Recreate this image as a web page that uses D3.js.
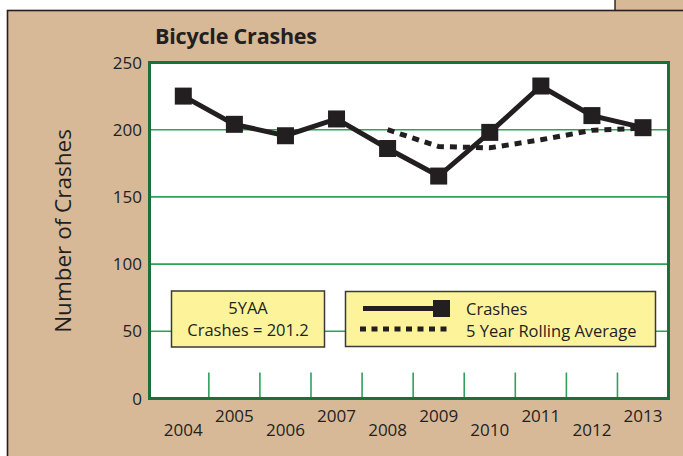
<!DOCTYPE html>
<html>
<head>
<meta charset="utf-8">
<script src="https://cdn.jsdelivr.net/npm/d3@7"></script>
<style>
  body { margin: 0; background: #fff; }
  text { font-family: "Open Sans", sans-serif; fill: #231f20; }
</style>
</head>
<body>
<div id="chart"></div>
<script>
const years = ["2004", "2005", "2006", "2007", "2008", "2009", "2010", "2011", "2012", "2013"];
const crashes = [225, 204, 195.5, 208, 186, 165.5, 198, 232.5, 210.5, 201.5];
const avgYears = ["2008", "2009", "2010", "2011", "2012", "2013"];
const rollingAvg = [200, 187.5, 186.5, 192.5, 199.5, 201.2];
const yTicks = [0, 50, 100, 150, 200, 250];
const legendNames = ["Crashes", "5 Year Rolling Average"];
const summaryLines = ["5YAA", "Crashes = 201.2"];

const width = 683, height = 456;
const tan = "#d7b998";
const frameGreen = "#1b6f3d";
const gridGreen = "#2fa159";

const svg = d3.select("#chart").append("svg")
    .attr("width", width)
    .attr("height", height);

// outer panel
svg.append("rect").attr("x", 0).attr("y", 0).attr("width", width).attr("height", height).attr("fill", "#fff");
svg.append("rect").attr("x", 615).attr("y", 0).attr("width", 68).attr("height", 12).attr("fill", tan);
svg.append("rect").attr("x", 7.5).attr("y", 10.5).attr("width", 700).attr("height", 460)
    .attr("fill", tan).attr("stroke", "#231f20").attr("stroke-width", 1.6);
svg.append("line").attr("x1", 615).attr("x2", 615).attr("y1", 0).attr("y2", 10.5)
    .attr("stroke", "#231f20").attr("stroke-width", 1.4);

const plot = { left: 149.5, right: 668.5, top: 62.5, bottom: 398.5 };

const x = d3.scalePoint().domain(years).range([183.3, 643]);
const y = d3.scaleLinear().domain([0, 250]).range([plot.bottom, plot.top]);

svg.append("rect")
    .attr("x", plot.left).attr("y", plot.top)
    .attr("width", plot.right - plot.left).attr("height", plot.bottom - plot.top)
    .attr("fill", "#fff");

// grid lines
svg.append("g").selectAll("line")
    .data(yTicks.filter(d => d > 0 && d < 250)).enter()
    .append("line")
    .attr("x1", plot.left).attr("x2", plot.right)
    .attr("y1", d => y(d)).attr("y2", d => y(d))
    .attr("stroke", gridGreen).attr("stroke-width", 1.6);

// small ticks between years
const mids = years.slice(1).map((yr, i) => (x(years[i]) + x(yr)) / 2);
svg.append("g").selectAll("line")
    .data(mids).enter()
    .append("line")
    .attr("x1", d => d).attr("x2", d => d)
    .attr("y1", plot.bottom - 26).attr("y2", plot.bottom)
    .attr("stroke", gridGreen).attr("stroke-width", 1.6);

// frame
svg.append("rect")
    .attr("x", plot.left).attr("y", plot.top)
    .attr("width", plot.right - plot.left).attr("height", plot.bottom - plot.top)
    .attr("fill", "none").attr("stroke", frameGreen).attr("stroke-width", 3);

// y labels
svg.append("g").selectAll("text")
    .data(yTicks).enter()
    .append("text")
    .attr("x", 142).attr("y", d => y(d) + 6)
    .attr("text-anchor", "end")
    .attr("font-size", 17)
    .text(d => d);

// x labels, staggered
svg.append("g").selectAll("text")
    .data(years).enter()
    .append("text")
    .attr("x", d => x(d))
    .attr("y", (d, i) => i % 2 === 0 ? 436 : 422)
    .attr("text-anchor", "middle")
    .attr("font-size", 17)
    .text(d => d);

svg.append("text")
    .attr("transform", "translate(71,231) rotate(-90)")
    .attr("text-anchor", "middle")
    .attr("font-size", 22.5)
    .text("Number of Crashes");

svg.append("text")
    .attr("x", 155).attr("y", 44)
    .attr("font-size", 21.5).attr("font-weight", "bold")
    .attr("letter-spacing", -0.2)
    .text("Bicycle Crashes");

// summary box
svg.append("rect")
    .attr("x", 171.5).attr("y", 291).attr("width", 153).attr("height", 56)
    .attr("fill", "#fdf39b").attr("stroke", "#3a3a3a").attr("stroke-width", 1.5);
svg.append("g").selectAll("text")
    .data(summaryLines).enter()
    .append("text")
    .attr("x", 248).attr("y", (d, i) => 314 + i * 22)
    .attr("text-anchor", "middle")
    .attr("font-size", 16.5)
    .text(d => d);

// legend box
svg.append("rect")
    .attr("x", 345.5).attr("y", 291.5).attr("width", 310).attr("height", 55)
    .attr("fill", "#fdf39b").attr("stroke", "#3a3a3a").attr("stroke-width", 1.5);
svg.append("line")
    .attr("x1", 363).attr("x2", 440).attr("y1", 308.5).attr("y2", 308.5)
    .attr("stroke", "#231f20").attr("stroke-width", 5);
svg.append("rect")
    .attr("x", 433).attr("y", 300).attr("width", 17).attr("height", 17)
    .attr("fill", "#231f20");
svg.append("line")
    .attr("x1", 360).attr("x2", 450).attr("y1", 329).attr("y2", 329)
    .attr("stroke", "#231f20").attr("stroke-width", 5)
    .attr("stroke-dasharray", "6,5.5");
svg.append("g").selectAll("text")
    .data(legendNames).enter()
    .append("text")
    .attr("x", 466).attr("y", (d, i) => 315 + i * 22)
    .attr("font-size", 16.5)
    .text(d => d);

// rolling average
const avgLine = d3.line().x((d, i) => x(avgYears[i])).y(d => y(d));
svg.append("path")
    .attr("d", avgLine(rollingAvg))
    .attr("fill", "none").attr("stroke", "#231f20").attr("stroke-width", 5)
    .attr("stroke-dasharray", "7,6");

// crashes
const crashLine = d3.line().x((d, i) => x(years[i])).y(d => y(d));
svg.append("path")
    .attr("d", crashLine(crashes))
    .attr("fill", "none").attr("stroke", "#231f20").attr("stroke-width", 5)
    .attr("stroke-linejoin", "miter");
svg.append("g").selectAll("rect")
    .data(crashes).enter()
    .append("rect")
    .attr("x", (d, i) => x(years[i]) - 8.5)
    .attr("y", d => y(d) - 8.5)
    .attr("width", 17).attr("height", 17)
    .attr("fill", "#231f20");
</script>
</body>
</html>
